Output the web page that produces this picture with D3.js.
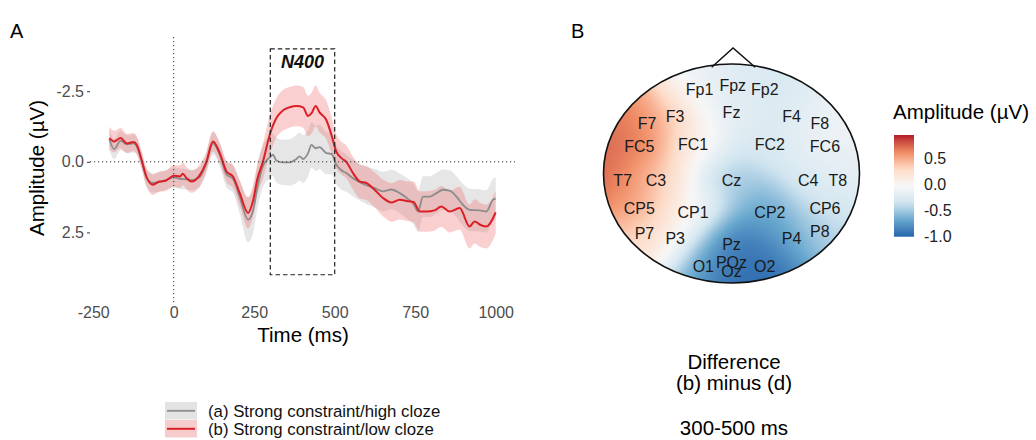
<!DOCTYPE html>
<html>
<head>
<meta charset="utf-8">
<script src="https://cdn.jsdelivr.net/npm/d3@7"></script>
<style>
    body { margin: 0; background: #fff; }
    svg { font-family: "Liberation Sans", Arial, sans-serif; }
</style>
</head>
<body>
<svg id="chart" width="1036" height="440"></svg>
<script>

// Data: (a) Strong constraint/high cloze
const TIME_A = [-200, -185, -165, -145, -125, -115, -100, -85, -65, -45, -25, 0, 20, 40, 55, 80, 100, 122, 143, 164,
    184, 205, 231, 246, 260, 277, 298, 308, 319, 339, 360, 381, 391, 402, 417, 428, 441, 453, 474, 490,
    505, 521, 536, 557, 578, 598, 624, 650, 676, 702, 728, 745, 759, 774, 795, 816, 836, 857, 878, 898,
    919, 950, 971, 992, 1000];
const AMP_A = [-0.80, -0.45, -0.75, -0.62, -0.65, -0.55, -0.07, 0.55, 0.75, 0.72, 0.65, 0.55, 0.60, 0.62, 0.65, 0.55, 0.10, -0.65, -0.25, 0.45,
    0.60, 1.25, 2.05, 1.75, 0.90, 0.15, -0.15, -0.25, -0.05, 0.02, 0.02, -0.10, -0.19, -0.10, -0.30, -0.60, -0.48, -0.52, -0.31, -0.28,
    0.10, 0.30, 0.40, 0.58, 0.72, 0.83, 0.93, 1.05, 0.98, 1.11, 1.32, 1.50, 1.76, 1.23, 1.23, 1.11, 0.99, 1.02, 1.23, 1.52,
    1.70, 1.72, 1.76, 1.34, 1.30];
const SE_A = [0.38, 0.36, 0.34, 0.32, 0.32, 0.30, 0.30, 0.32, 0.34, 0.34, 0.34,
    0.36, 0.36, 0.36, 0.36, 0.36, 0.36,
    0.40, 0.42, 0.45, 0.50,
    0.60, 0.80, 0.80, 0.75,
    0.75, 0.75, 0.75, 0.78, 0.80, 0.82, 0.85, 0.85, 0.85, 0.82, 0.80, 0.80, 0.78, 0.75, 0.72,
    0.70, 0.68, 0.66, 0.65, 0.65, 0.66, 0.68, 0.70, 0.70, 0.70, 0.72, 0.72,
    0.72, 0.72, 0.72, 0.72, 0.72, 0.72, 0.72, 0.74, 0.75, 0.75, 0.75, 0.75, 0.75];

// Data: (b) Strong constraint/low cloze
const TIME_B = [-200, -185, -165, -145, -125, -115, -100, -85, -65, -45, -25, 0, 20, 28, 40, 55, 80, 100, 122, 143,
    164, 184, 205, 231, 246, 260, 277, 298, 319, 339, 360, 381, 402, 417, 428, 441, 453, 474, 490, 505,
    521, 536, 557, 578, 598, 624, 650, 676, 702, 728, 745, 764, 785, 810, 831, 857, 888, 919, 935, 950,
    971, 1000];
const AMP_B = [-0.84, -0.72, -0.84, -0.65, -0.70, -0.60, -0.07, 0.52, 0.81, 0.70, 0.67, 0.49, 0.52, 0.42, 0.58, 0.70, 0.49, 0.05, -0.72, -0.31,
    0.34, 0.52, 1.11, 1.81, 1.40, 0.60, 0.00, -0.95, -1.55, -1.82, -1.93, -1.98, -1.93, -1.62, -1.72, -1.98, -1.75, -1.48, -0.95, -0.36,
    -0.13, 0.00, 0.40, 0.70, 0.75, 0.99, 1.28, 1.44, 1.34, 1.40, 1.42, 1.76, 1.76, 1.72, 1.58, 1.76, 1.64, 2.29, 2.11, 2.22,
    2.29, 1.79];
const SE_B = [0.40, 0.38, 0.36, 0.34, 0.32, 0.32, 0.30, 0.32, 0.36, 0.36, 0.36,
    0.38, 0.40, 0.40, 0.40, 0.40, 0.38, 0.36,
    0.36, 0.36, 0.38, 0.40,
    0.45, 0.55, 0.55, 0.55,
    0.62, 0.68, 0.70, 0.72, 0.72, 0.72, 0.72, 0.72, 0.72, 0.72, 0.70, 0.68, 0.65,
    0.60, 0.58, 0.58, 0.58, 0.60, 0.60, 0.62, 0.65, 0.68, 0.70, 0.70, 0.72,
    0.72, 0.72, 0.72, 0.72, 0.74, 0.76, 0.78, 0.78, 0.78, 0.78, 0.76];

const X_TICKS = [-250, 0, 250, 500, 750, 1000];
const Y_TICKS = [-2.5, 0, 2.5];
const N400_WINDOW = [300, 500];
const LEGEND_LABELS = ['(a) Strong constraint/high cloze', '(b) Strong constraint/low cloze'];

// Data: topography of the difference (b) minus (d), 300-500 ms (head coordinates -1..1)
const ELECTRODES = ['Fp1', 'Fpz', 'Fp2', 'Fz', 'F3', 'F7', 'F4', 'F8', 'FC1', 'FC2', 'FC5', 'FC6', 'T7', 'C3', 'Cz',
    'C4', 'T8', 'CP5', 'CP1', 'CP2', 'CP6', 'P7', 'P3', 'Pz', 'P4', 'P8', 'O1', 'POz', 'Oz', 'O2'];
const ELEC_X = [-0.25, 0.01, 0.26, 0.00, -0.44, -0.66, 0.47, 0.69, -0.30, 0.30, -0.72, 0.73, -0.85, -0.59, 0.00,
    0.60, 0.83, -0.72, -0.30, 0.30, 0.73, -0.68, -0.44, 0.00, 0.47, 0.69, -0.22, 0.00, 0.00, 0.26];
const ELEC_Y = [-0.77, -0.81, -0.77, -0.56, -0.52, -0.46, -0.52, -0.46, -0.27, -0.27, -0.25, -0.25, 0.06, 0.06, 0.06,
    0.06, 0.06, 0.32, 0.35, 0.35, 0.32, 0.55, 0.59, 0.65, 0.59, 0.53, 0.85, 0.81, 0.89, 0.85];
const ELEC_AMP = [-0.10, -0.25, -0.30, -0.20, 0.30, 0.70, -0.30, -0.05, 0.00, -0.30, 0.75, -0.15, 0.80, 0.20, -0.50,
    -0.30, -0.15, 0.60, -0.05, -0.70, -0.35, 0.30, 0.00, -0.85, -0.80, -0.40, -0.60, -1.00, -1.05, -0.95];
const COLOR_LIMITS = [-1.0, 0.95];
const COLOR_TICKS = [0.5, 0.0, -0.5, -1.0];
const PALETTE = ['#2166AC', '#67A9CF', '#D1E5F0', '#F7F7F7', '#FDDBC7', '#EF8A62', '#B2182B'];

const svg = d3.select('#chart');

drawErp();
drawTopo();

function drawErp() {
    let x = d3.scaleLinear().domain([-260, 1060]).range([90, 515]),
        y = d3.scaleLinear().domain([-4.42, 5.0]).range([37, 303]),
        g = svg.append('g');

    let seriesA = TIME_A.map((t, i) => ({ t, v: AMP_A[i], se: SE_A[i] })),
        seriesB = TIME_B.map((t, i) => ({ t, v: AMP_B[i], se: SE_B[i] }));

    let area = d3.area()
        .curve(d3.curveMonotoneX)
        .x((d) => x(d.t))
        .y0((d) => y(d.v - d.se))
        .y1((d) => y(d.v + d.se));
    let line = d3.line()
        .curve(d3.curveMonotoneX)
        .x((d) => x(d.t))
        .y((d) => y(d.v));

    // Ribbons then lines
    g.append('path').datum(seriesA).attr('d', area)
        .attr('fill', '#c8c8c8').attr('fill-opacity', 0.45);
    g.append('path').datum(seriesB).attr('d', area)
        .attr('fill', '#ee6b6b').attr('fill-opacity', 0.32);
    g.append('path').datum(seriesA).attr('d', line)
        .attr('fill', 'none').attr('stroke', '#8c8c8c').attr('stroke-width', 1.8);
    g.append('path').datum(seriesB).attr('d', line)
        .attr('fill', 'none').attr('stroke', '#dc1f26').attr('stroke-width', 2);

    // Zero lines
    g.append('line')
        .attr('x1', x(0)).attr('x2', x(0)).attr('y1', y.range()[0]).attr('y2', y.range()[1])
        .attr('stroke', '#333').attr('stroke-dasharray', '1.2,2.8');
    g.append('line')
        .attr('x1', x.range()[0]).attr('x2', x.range()[1]).attr('y1', y(0)).attr('y2', y(0))
        .attr('stroke', '#333').attr('stroke-dasharray', '1.2,2.8');

    // N400 window
    g.append('rect')
        .attr('x', x(N400_WINDOW[0])).attr('width', x(N400_WINDOW[1]) - x(N400_WINDOW[0]))
        .attr('y', y(-4)).attr('height', y(4) - y(-4))
        .attr('fill', 'none').attr('stroke', '#222').attr('stroke-width', 1.2)
        .attr('stroke-dasharray', '4.5,3');
    g.append('text')
        .attr('x', x(400)).attr('y', y(-3.55)).attr('dy', '0.36em')
        .attr('text-anchor', 'middle')
        .attr('font-size', 18).attr('font-weight', 'bold').attr('font-style', 'italic')
        .attr('fill', '#111')
        .text('N400');

    // Axes
    let xAxis = g.append('g')
        .attr('transform', 'translate(0,' + y.range()[1] + ')')
        .call(d3.axisBottom(x).tickValues(X_TICKS).tickSize(0).tickPadding(4).tickFormat((d) => String(d)));
    let yAxis = g.append('g')
        .attr('transform', 'translate(' + x.range()[0] + ',0)')
        .call(d3.axisLeft(y).tickValues(Y_TICKS).tickSize(3).tickPadding(3).tickFormat((d) => d.toFixed(1)));
    [xAxis, yAxis].forEach((a) => {
        a.select('.domain').remove();
        a.selectAll('.tick line').attr('stroke', '#333');
        a.selectAll('.tick text')
            .attr('fill', '#4d4d4d')
            .attr('font-size', 16)
            .attr('font-family', '"Liberation Sans", Arial, sans-serif');
    });

    g.append('text')
        .attr('x', 303).attr('y', 342)
        .attr('text-anchor', 'middle').attr('font-size', 20.5)
        .text('Time (ms)');
    g.append('text')
        .attr('transform', 'translate(44,168) rotate(-90)')
        .attr('text-anchor', 'middle').attr('font-size', 20.5)
        .text('Amplitude (\u00b5V)');

    // Panel label
    svg.append('text').attr('x', 10).attr('y', 38).attr('font-size', 20).text('A');

    // Legend
    let legend = svg.append('g').attr('transform', 'translate(165,402)');
    let keys = [
        { fill: '#e3e3e3', stroke: '#8c8c8c', w: 1.8 },
        { fill: '#f7cccc', stroke: '#dc1f26', w: 2 }
    ];
    keys.forEach((k, i) => {
        let row = legend.append('g').attr('transform', 'translate(0,' + (i * 18) + ')');
        row.append('rect').attr('width', 32).attr('height', 17.5).attr('fill', k.fill);
        row.append('line').attr('x1', 2).attr('x2', 30).attr('y1', 8.8).attr('y2', 8.8)
            .attr('stroke', k.stroke).attr('stroke-width', k.w);
        row.append('text').attr('x', 43).attr('y', 9).attr('dy', '0.36em')
            .attr('font-size', 16.8).attr('fill', '#111')
            .text(LEGEND_LABELS[i]);
    });
}

function drawTopo() {
    let hx = d3.scaleLinear().domain([-1, 1]).range([603.5, 859.5]),
        hy = d3.scaleLinear().domain([-1, 1]).range([64, 283]);

    let color = d3.scaleLinear()
        .domain(PALETTE.map((c, i) => COLOR_LIMITS[0] + i * (COLOR_LIMITS[1] - COLOR_LIMITS[0]) / (PALETTE.length - 1)))
        .range(PALETTE)
        .interpolate(d3.interpolateLab)
        .clamp(true);

    let defs = svg.append('defs');
    defs.append('clipPath').attr('id', 'head-clip')
        .append('ellipse')
        .attr('cx', hx(0)).attr('cy', hy(0))
        .attr('rx', (hx(1) - hx(-1)) / 2).attr('ry', (hy(1) - hy(-1)) / 2);
    defs.append('filter').attr('id', 'soft')
        .attr('x', '-5%').attr('y', '-5%').attr('width', '110%').attr('height', '110%')
        .append('feGaussianBlur').attr('stdDeviation', 2.5);

    // Interpolated field (kernel-weighted average of electrode amplitudes)
    let sigma = 0.19, cell = 3, cells = [];
    for (let py = hy(-1) - 6; py < hy(1) + 6; py += cell) {
        for (let px = hx(-1) - 6; px < hx(1) + 6; px += cell) {
            let nx = hx.invert(px + cell / 2), ny = hy.invert(py + cell / 2),
                sw = 0, sv = 0;
            ELECTRODES.forEach((e, i) => {
                let d2 = (nx - ELEC_X[i]) ** 2 + (ny - ELEC_Y[i]) ** 2,
                    w = Math.exp(-d2 / (2 * sigma * sigma)) + 1e-9 / (d2 + 1e-6);
                sw += w;
                sv += w * ELEC_AMP[i];
            });
            cells.push({ px, py, v: sv / sw });
        }
    }

    let field = svg.append('g').attr('clip-path', 'url(#head-clip)')
        .append('g').attr('filter', 'url(#soft)');
    field.selectAll('rect').data(cells).enter().append('rect')
        .attr('x', (d) => d.px).attr('y', (d) => d.py)
        .attr('width', cell + 0.3).attr('height', cell + 0.3)
        .attr('fill', (d) => color(d.v));

    // Head outline and nose
    svg.append('path')
        .attr('d', d3.line()([[hx(-0.155), hy(-0.97)], [hx(0.012), hy(-1.146)], [hx(0.185), hy(-0.97)]]))
        .attr('fill', 'none').attr('stroke', '#111').attr('stroke-width', 1.5);
    svg.append('ellipse')
        .attr('cx', hx(0)).attr('cy', hy(0))
        .attr('rx', (hx(1) - hx(-1)) / 2).attr('ry', (hy(1) - hy(-1)) / 2)
        .attr('fill', 'none').attr('stroke', '#111').attr('stroke-width', 1.6);

    // Electrode labels
    svg.append('g').selectAll('text').data(ELECTRODES).enter().append('text')
        .attr('x', (d, i) => hx(ELEC_X[i])).attr('y', (d, i) => hy(ELEC_Y[i]))
        .attr('dy', '0.36em').attr('text-anchor', 'middle')
        .attr('font-size', 16).attr('fill', '#1a1a1a')
        .text((d) => d);

    // Colour bar
    let cb = d3.scaleLinear().domain(COLOR_LIMITS).range([236.7, 135]);
    let grad = defs.append('linearGradient').attr('id', 'cbar')
        .attr('x1', 0).attr('y1', 1).attr('x2', 0).attr('y2', 0);
    d3.range(0, 1.0001, 0.05).forEach((f) => {
        grad.append('stop').attr('offset', f)
            .attr('stop-color', color(COLOR_LIMITS[0] + f * (COLOR_LIMITS[1] - COLOR_LIMITS[0])));
    });
    svg.append('rect')
        .attr('x', 894).attr('width', 20)
        .attr('y', cb(COLOR_LIMITS[1])).attr('height', cb(COLOR_LIMITS[0]) - cb(COLOR_LIMITS[1]))
        .attr('fill', 'url(#cbar)');
    svg.append('g').selectAll('text').data(COLOR_TICKS).enter().append('text')
        .attr('x', 924).attr('y', (d) => cb(d)).attr('dy', '0.36em')
        .attr('font-size', 16).attr('fill', '#222')
        .text((d) => d.toFixed(1));
    svg.append('text').attr('x', 893).attr('y', 119).attr('font-size', 20.5).text('Amplitude (\u00b5V)');

    // Captions
    let cap = svg.append('g').attr('text-anchor', 'middle').attr('font-size', 20.5);
    cap.append('text').attr('x', 734).attr('y', 369).text('Difference');
    cap.append('text').attr('x', 734).attr('y', 390).text('(b) minus (d)');
    cap.append('text').attr('x', 734).attr('y', 435).text('300-500 ms');

    svg.append('text').attr('x', 571).attr('y', 38).attr('font-size', 20).text('B');
}

</script>
</body>
</html>
